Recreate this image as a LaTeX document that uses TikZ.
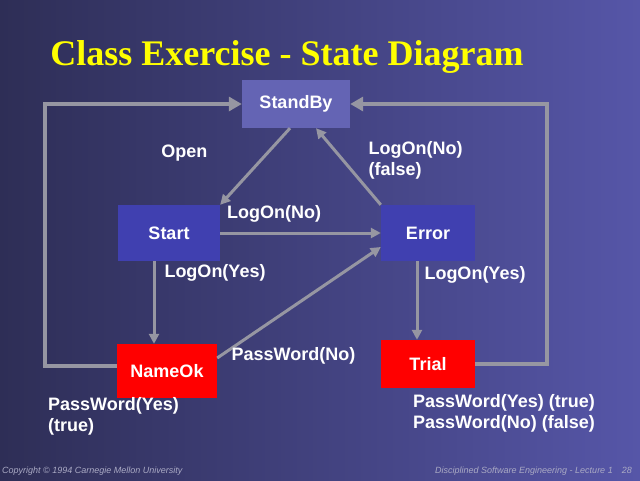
\documentclass[tikz,border=0pt]{standalone}
\usepackage{fontspec}
\setmainfont{Liberation Serif}
\setsansfont{Liberation Sans}
\usetikzlibrary{arrows.meta, positioning}

\definecolor{bgleft}{RGB}{46,46,86}
\definecolor{bgright}{RGB}{86,86,168}
\definecolor{standbyblue}{RGB}{100,100,180}
\definecolor{stateblue}{RGB}{64,64,176}
\definecolor{statered}{RGB}{255,0,0}
\definecolor{wire}{RGB}{150,150,162}
\definecolor{footgray}{RGB}{170,170,196}
\definecolor{titleyellow}{RGB}{255,255,0}

\begin{document}
\begin{tikzpicture}[
    x=1pt, y=-1pt,
    statebox/.style={rectangle, inner sep=0pt, text=white, font=\sffamily\bfseries\fontsize{18}{21}\selectfont},
    standbybox/.style={statebox, fill=standbyblue, minimum width=108pt, minimum height=48pt},
    bluebox/.style={statebox, fill=stateblue, minimum height=56pt},
    redbox/.style={statebox, fill=statered, minimum height=54pt},
    lbl/.style={text=white, align=left, inner sep=0pt, font=\sffamily\bfseries\fontsize{18}{21}\selectfont},
    arr/.style={draw=wire, line width=3pt, -{Triangle[length=10pt, width=10pt]}},
    backarr/.style={draw=wire, line width=4pt, -{Triangle[length=13pt, width=14pt]}},
    foot/.style={text=footgray, inner sep=0pt, font=\sffamily\itshape\fontsize{9}{11}\selectfont},
]

% Background
\shade[left color=bgleft, right color=bgright] (0,0) rectangle (640,480);
\useasboundingbox (0,0) rectangle (640,480);

% Title
\node[text=titleyellow, font=\bfseries\fontsize{36}{40}\selectfont] (title) at (287,57) {Class Exercise - State Diagram};

% States
\node[standbybox] (standby) at (296,104) {StandBy};
\node[bluebox, minimum width=102pt] (start) at (169,233) {Start};
\node[bluebox, minimum width=94pt] (error) at (428,233) {Error};
\node[redbox, minimum width=100pt] (nameok) at (167,371) {NameOk};
\node[redbox, minimum width=94pt, minimum height=48pt] (trial) at (428,364) {Trial};

% Back to StandBy
\draw[backarr] ([yshift=5pt]nameok.west) -- ++(-72,0) |- (standby.west);
\draw[backarr] (trial.east) -- ++(72,0) |- (standby.east);

% Transitions
\draw[arr] ([xshift=-6pt]standby.south) -- (start.north east)
    node[lbl, pos=0.33, left=58pt] {Open};
\draw[arr] (error.north west) -- ([xshift=20pt]standby.south)
    node[lbl, pos=0.58, right=24pt] {LogOn(No)\\(false)};
\draw[arr] (start.east) -- (error.west)
    node[lbl, pos=0.335, above=9pt] {LogOn(No)};
\draw[arr] ([xshift=-15pt]start.south) -- ([xshift=-15pt]start.south |- nameok.north)
    node[lbl, pos=0.14, right=9pt] {LogOn(Yes)};
\draw[arr] ([yshift=13pt]nameok.east) -- ([yshift=-14pt]error.west)
    node[lbl, pos=0, anchor=west, xshift=13pt, yshift=2pt] {PassWord(No)};
\draw[arr] ([xshift=-11pt]error.south) -- ([xshift=-11pt]error.south |- trial.north)
    node[lbl, pos=0.18, right=6pt] {LogOn(Yes)};

% Exit conditions
\node[lbl, anchor=west] (nameokexit) at (48,416) {PassWord(Yes)\\(true)};
\node[lbl, anchor=west] (trialexit) at (413,413) {PassWord(Yes) (true)\\PassWord(No) (false)};

% Footer
\node[foot, anchor=west] (copyright) at (2,471) {Copyright \textcopyright{} 1994 Carnegie Mellon University};
\node[foot, anchor=east] (lecture) at (632,471) {Disciplined Software Engineering - Lecture 1\quad 28};

\end{tikzpicture}
\end{document}
